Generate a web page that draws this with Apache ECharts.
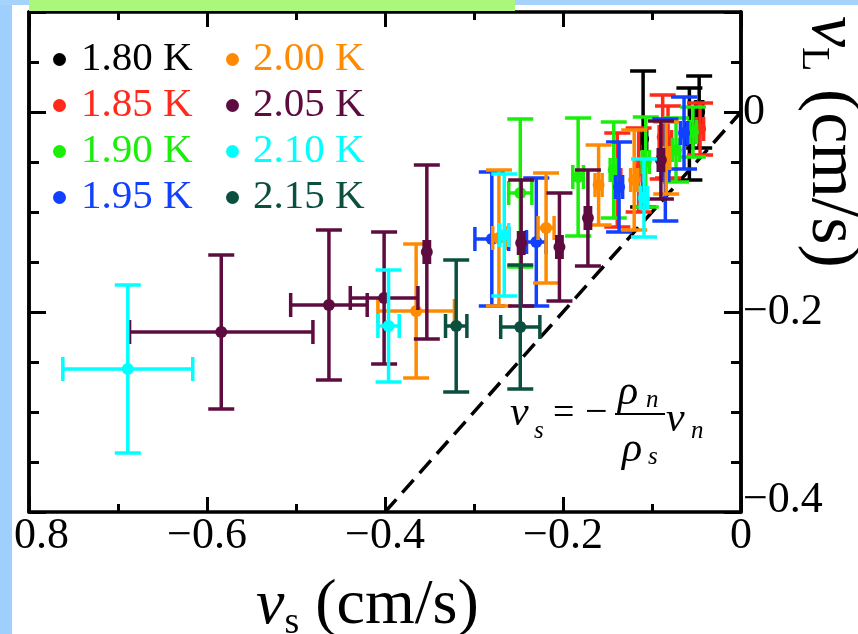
<!DOCTYPE html>
<html>
<head>
<meta charset="utf-8">
<script src="https://cdn.jsdelivr.net/npm/echarts@6/dist/echarts.min.js"></script>
<style>
  html, body { margin: 0; width: 100%; height: 100%; background: #fff; }
  #chart { width: 858px; height: 634px; }
</style>
</head>
<body>
<div id="chart"></div>
<script>
// each point: [vs, vL, vs error, vL error]  (cm/s)
var t180 = [[-0.110, -0.027, 0.004, 0.068], [-0.058, -0.022, 0.004, 0.046], [-0.047, 0.000, 0.004, 0.036]];
var t185 = [[-0.139, -0.068, 0.004, 0.047], [-0.115, -0.058, 0.004, 0.042], [-0.088, -0.025, 0.004, 0.042],
            [-0.082, -0.030, 0.004, 0.036], [-0.046, -0.017, 0.004, 0.026]];
var t190 = [[-0.248, -0.081, 0.013, 0.074], [-0.183, -0.065, 0.006, 0.059], [-0.143, -0.058, 0.004, 0.048],
            [-0.107, -0.050, 0.004, 0.045], [-0.073, -0.038, 0.004, 0.032], [-0.054, -0.020, 0.004, 0.025]];
var t195 = [[-0.280, -0.127, 0.019, 0.067], [-0.230, -0.130, 0.011, 0.064], [-0.137, -0.075, 0.004, 0.045],
            [-0.085, -0.058, 0.004, 0.051], [-0.064, -0.021, 0.004, 0.036]];
var t200 = [[-0.365, -0.199, 0.043, 0.067], [-0.272, -0.126, 0.007, 0.068], [-0.219, -0.116, 0.009, 0.055],
            [-0.160, -0.073, 0.004, 0.040], [-0.120, -0.068, 0.004, 0.050], [-0.084, -0.046, 0.004, 0.036]];
var t205 = [[-0.584, -0.220, 0.103, 0.077], [-0.463, -0.193, 0.043, 0.075], [-0.401, -0.186, 0.038, 0.066],
            [-0.353, -0.140, 0.003, 0.087], [-0.247, -0.131, 0.003, 0.063], [-0.204, -0.135, 0.003, 0.054],
            [-0.172, -0.106, 0.003, 0.048], [-0.090, -0.048, 0.003, 0.039]];
var t210 = [[-0.689, -0.257, 0.073, 0.084], [-0.396, -0.214, 0.012, 0.056], [-0.266, -0.123, 0.005, 0.061],
            [-0.109, -0.086, 0.004, 0.039]];
var t215 = [[-0.320, -0.214, 0.012, 0.066], [-0.248, -0.215, 0.022, 0.062]];

var names = ['1.80 K', '1.85 K', '1.90 K', '1.95 K', '2.00 K', '2.05 K', '2.10 K', '2.15 K'];
var colors = ['#000000', '#ff2a1a', '#1aee0a', '#1240ff', '#ff8a00', '#5e0c3f', '#00ffff', '#0b4f3e'];
var sets = [t180, t185, t190, t195, t200, t205, t210, t215];

// dashed reference line vs = -(rho_n/rho_s) vn
var refLine = [[-0.4, -0.4], [0, 0]];

var xTicks = [-0.8, -0.6, -0.4, -0.2, 0];
var yTicks = [-0.4, -0.2, 0];

var serif = 'Liberation Serif';

function fmt(v) {
  if (Math.abs(v) < 1e-9) return '0';
  return '\u2212' + Math.abs(v).toFixed(1);
}

function errItem(params, api) {
  var x = api.value(0), y = api.value(1), ex = api.value(2), ey = api.value(3);
  var c = api.coord([x, y]);
  var l = api.coord([x - ex, y]), r = api.coord([x + ex, y]);
  var t = api.coord([x, y + ey]), b = api.coord([x, y - ey]);
  var color = api.visual('color');
  var st = { stroke: color, lineWidth: 3.5, fill: null };
  var cw = 13, ch = 12;
  return {
    type: 'group',
    children: [
      { type: 'line', shape: { x1: t[0], y1: t[1], x2: b[0], y2: b[1] }, style: st },
      { type: 'line', shape: { x1: t[0] - cw, y1: t[1], x2: t[0] + cw, y2: t[1] }, style: st },
      { type: 'line', shape: { x1: b[0] - cw, y1: b[1], x2: b[0] + cw, y2: b[1] }, style: st },
      { type: 'line', shape: { x1: l[0], y1: l[1], x2: r[0], y2: r[1] }, style: st },
      { type: 'line', shape: { x1: l[0], y1: l[1] - ch, x2: l[0], y2: l[1] + ch }, style: st },
      { type: 'line', shape: { x1: r[0], y1: r[1] - ch, x2: r[0], y2: r[1] + ch }, style: st },
      { type: 'circle', shape: { cx: c[0], cy: c[1], r: 6 }, style: { fill: color } }
    ]
  };
}

var series = [{
  type: 'line',
  data: refLine,
  symbol: 'none',
  silent: true,
  lineStyle: { color: '#000', width: 3.5, type: [17, 9] },
  z: 1
}];
sets.forEach(function (d, i) {
  series.push({
    name: names[i],
    type: 'custom',
    renderItem: errItem,
    data: d,
    itemStyle: { color: colors[i] },
    encode: { x: 0, y: 1 },
    z: 2 + i
  });
});

function legendData(from, to) {
  var out = [];
  for (var i = from; i < to; i++) {
    out.push({ name: names[i], icon: 'circle', textStyle: { color: colors[i] } });
  }
  return out;
}
var legendText = { fontFamily: serif, fontSize: 41, lineHeight: 38 };

var tickLine = { color: '#000', width: 3 };
var axisLine = { show: true, onZero: false, lineStyle: { color: '#000', width: 3.5 } };

function xAx(pos, labels) {
  return {
    type: 'value', position: pos, min: -0.8, max: 0, interval: 0.2,
    axisLine: axisLine, splitLine: { show: false },
    axisTick: { show: true, inside: true, length: 15, lineStyle: tickLine },
    minorTick: { show: true, splitNumber: 2, length: 8, lineStyle: tickLine },
    axisLabel: {
      show: labels, margin: 2, color: '#000', fontFamily: serif, fontSize: 44,
      formatter: function (v) { return fmt(v); }
    }
  };
}
function yAx(pos, interval, len, labels) {
  return {
    type: 'value', position: pos, min: -0.4, max: 0.1, interval: interval,
    axisLine: axisLine, splitLine: { show: false },
    axisTick: { show: true, inside: true, length: len, lineStyle: tickLine },
    axisLabel: {
      show: labels, margin: 2, color: '#000', fontFamily: serif, fontSize: 44,
      formatter: function (v) {
        for (var k = 0; k < yTicks.length; k++) {
          if (Math.abs(v - yTicks[k]) < 1e-6) {
            return yTicks[k] === -0.4 ? '{up|' + fmt(v) + '}' : fmt(v);
          }
        }
        return '';
      },
      rich: { up: { fontFamily: serif, fontSize: 44, color: '#000', padding: [0, 0, 24, 0] } }
    }
  };
}

var chart = echarts.init(document.getElementById('chart'));
chart.setOption({
  backgroundColor: '#fff',
  animation: false,
  grid: { left: 29, right: 117, top: 12, bottom: 122, containLabel: false, outerBoundsMode: 'none' },
  legend: [
    { data: legendData(0, 4), orient: 'vertical', left: 48, top: 34, itemWidth: 33, itemHeight: 13,
      itemGap: 5, textStyle: legendText, selectedMode: false },
    { data: legendData(4, 8), orient: 'vertical', left: 221, top: 34, itemWidth: 31, itemHeight: 13,
      itemGap: 5, textStyle: legendText, selectedMode: false }
  ],
  xAxis: [xAx('bottom', true), xAx('top', false)],
  yAxis: [yAx('right', 0.2, 17, true), yAx('right', 0.05, 10, false),
          yAx('left', 0.2, 17, false), yAx('left', 0.05, 10, false)],
  series: series,
  graphic: [
    { type: 'rect', shape: { x: 0, y: 0, width: 12, height: 634 }, style: { fill: '#9fcffc' }, z: 100 },
    { type: 'rect', shape: { x: 0, y: 0, width: 858, height: 5 }, style: { fill: '#a6d3fb' }, z: 100 },
    { type: 'rect', shape: { x: 29, y: 0, width: 486, height: 11 }, style: { fill: '#abf77b' }, z: 101 },
    // axis names
    { type: 'text', x: 256, y: 606, z: 100,
      style: { text: '{i|v}{sub|s} (cm/s)', verticalAlign: 'middle', fill: '#000',
        font: '64px "Liberation Serif"',
        rich: { i: { fontFamily: serif, fontStyle: 'italic', fontSize: 64 },
                sub: { fontFamily: serif, fontSize: 38, padding: [34, 0, 0, 0] } } } },
    { type: 'text', x: 831, y: 16, rotation: -Math.PI / 2, z: 100,
      style: { text: '{i|v}{sub|L} (cm/s)', verticalAlign: 'middle', fill: '#000',
        font: '70px "Liberation Serif"',
        rich: { i: { fontFamily: serif, fontStyle: 'italic', fontSize: 70 },
                sub: { fontFamily: serif, fontSize: 40, padding: [36, 0, 0, 0] } } } },
    // formula
    { type: 'group', z: 100, children: [
      { type: 'text', x: 510, y: 414, style: { text: 'v', font: 'italic 42px "Liberation Serif"', fill: '#000', verticalAlign: 'middle' } },
      { type: 'text', x: 534, y: 431, style: { text: 's', font: 'italic 25px "Liberation Serif"', fill: '#000', verticalAlign: 'middle' } },
      { type: 'text', x: 553, y: 414, style: { text: '=', font: '38px "Liberation Serif"', fill: '#000', verticalAlign: 'middle' } },
      { type: 'text', x: 585, y: 413, style: { text: '\u2212', font: '40px "Liberation Serif"', fill: '#000', verticalAlign: 'middle' } },
      { type: 'line', shape: { x1: 615, y1: 414, x2: 665, y2: 414 }, style: { stroke: '#000', lineWidth: 2 } },
      { type: 'text', x: 618, y: 393, style: { text: '\u03c1', font: 'italic 42px "Liberation Serif"', fill: '#000', verticalAlign: 'middle' } },
      { type: 'text', x: 646, y: 400, style: { text: 'n', font: 'italic 25px "Liberation Serif"', fill: '#000', verticalAlign: 'middle' } },
      { type: 'text', x: 622, y: 450, style: { text: '\u03c1', font: 'italic 42px "Liberation Serif"', fill: '#000', verticalAlign: 'middle' } },
      { type: 'text', x: 648, y: 457, style: { text: 's', font: 'italic 25px "Liberation Serif"', fill: '#000', verticalAlign: 'middle' } },
      { type: 'text', x: 666, y: 420, style: { text: 'v', font: 'italic 42px "Liberation Serif"', fill: '#000', verticalAlign: 'middle' } },
      { type: 'text', x: 691, y: 431, style: { text: 'n', font: 'italic 25px "Liberation Serif"', fill: '#000', verticalAlign: 'middle' } }
    ] }
  ]
});
</script>
</body>
</html>
